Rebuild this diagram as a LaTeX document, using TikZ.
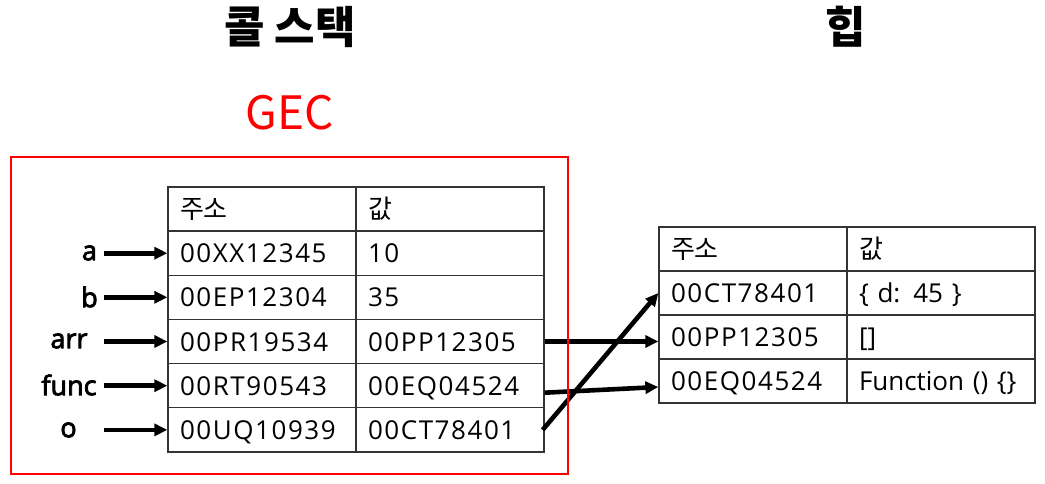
\documentclass[tikz,border=0pt]{standalone}
\usepackage{fontspec}
\setmainfont{Open Sans}
\newfontfamily\hexfont{Open Sans}[LetterSpace=6]
\newfontfamily\kr{Noto Sans CJK KR}
\newfontfamily\lblfont{Open Sans}[FakeBold=3]
\usetikzlibrary{arrows.meta,calc}
\definecolor{tblgray}{HTML}{333333}
\begin{document}
\begin{tikzpicture}[x=1pt,y=-1pt,
  cell/.style={draw=tblgray, line width=1.3pt, minimum width=188pt, minimum height=44.17pt,
    inner xsep=12pt, inner ysep=0pt, text width=164pt, align=left,
    text height=24pt, text depth=5pt,
    font=\hexfont\fontsize{26}{30}\selectfont, anchor=center},
  hcell/.style={cell, minimum height=44pt},
  varlabel/.style={font=\lblfont\fontsize{27}{32}\selectfont, inner sep=0pt},
  ptr/.style={line width=4.6pt, -{Triangle[length=13pt,width=12pt]}},
  title/.style={font=\kr\bfseries\fontsize{44}{48}\selectfont}
]
\useasboundingbox (0,0) rectangle (1045,484);

% titles
\node[title] (stack) at (290,27) {콜 스택};
\node[title] (heap) at (846,27) {힙};
\node[text=red, font=\kr\fontsize{46}{50}\selectfont] (gec) at (290,113) {GEC};

% call stack table
\node[cell] (sh1) at (262,209) {{\kr 주소}};
\node[cell] (sh2) at (450,209) {{\kr 값}};
\node[cell] (sa1) at (262,253.2) {00XX12345};
\node[cell] (sa2) at (450,253.2) {10};
\node[cell] (sb1) at (262,297.3) {00EP12304};
\node[cell] (sb2) at (450,297.3) {35};
\node[cell] (sc1) at (262,341.5) {00PR19534};
\node[cell] (sc2) at (450,341.5) {00PP12305};
\node[cell] (sd1) at (262,385.7) {00RT90543};
\node[cell] (sd2) at (450,385.7) {00EQ04524};
\node[cell] (se1) at (262,429.9) {00UQ10939};
\node[cell] (se2) at (450,429.9) {00CT78401};

% heap table
\node[hcell] (hh1) at (753,249) {{\kr 주소}};
\node[hcell] (hh2) at (941,249) {{\kr 값}};
\node[hcell] (ha1) at (753,293) {00CT78401};
\node[hcell] (ha2) at (941,293) {{\rmfamily\{ d: 45 \}}};
\node[hcell] (hb1) at (753,337) {00PP12305};
\node[hcell] (hb2) at (941,337) {{\rmfamily []}};
\node[hcell] (hc1) at (753,381) {00EQ04524};
\node[hcell] (hc2) at (941,381) {{\rmfamily Function () \{\}}};

% variable labels
\node[varlabel] (la) at (89.5,253) {a};
\node[varlabel] (lb) at (89.5,297) {b};
\node[varlabel] (larr) at (69,341) {arr};
\node[varlabel] (lfunc) at (69,385) {func};
\node[varlabel] (lo) at (68.5,430) {o};

\coordinate (pa) at (104,253.2);
\coordinate (pb) at (104,297.3);
\coordinate (pc) at (104,341.5);
\coordinate (pd) at (104,385.7);
\coordinate (pe) at (104,429.9);

\draw[ptr] (pa) -- (sa1.west);
\draw[ptr] (pb) -- (sb1.west);
\draw[ptr] (pc) -- (sc1.west);
\draw[ptr] (pd) -- (sd1.west);
\draw[ptr] (pe) -- (se1.west);

% pointers to heap
\draw[ptr] (sc2.east) -- (sc2.east -| hb1.west);
\draw[ptr] ($(sd2.east)+(0,7)$) -- ($(hc1.west)+(0,6)$);
\draw[ptr] ($(se2.east)+(-2,0)$) -- (ha1.west);

% GEC frame
\draw[red, line width=2pt] (11,157) rectangle (568,474);
\end{tikzpicture}
\end{document}
